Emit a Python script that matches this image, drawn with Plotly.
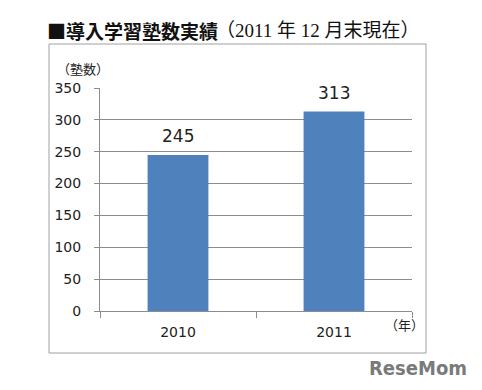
import plotly.graph_objects as go

categories = ["2010", "2011"]
values = [245, 313]
y_ticks = [0, 50, 100, 150, 200, 250, 300, 350]

W, H = 482, 390
L, R, T, B = 100, 70, 88, 79
PW, PH = W - L - R, H - T - B

fig = go.Figure()
fig.add_trace(go.Bar(
    x=categories, y=values, marker=dict(color="#4F81BD", line=dict(width=0)),
    width=0.39, hoverinfo="skip",
))


def px(x):
    return (x - L) / PW


def py(y):
    return 1 - (y - T) / PH


# category positions on the category axis are their indices
value_labels = [
    dict(text=str(v), x=i, y=v, xref="x", yref="y", yanchor="middle", yshift=19,
         showarrow=False, font=dict(size=17, color="#222222", family="DejaVu Sans"))
    for i, v in enumerate(values)
]

fig.update_layout(
    width=W, height=H, paper_bgcolor="white", plot_bgcolor="white",
    margin=dict(l=L, r=R, t=T, b=B), showlegend=False,
    xaxis=dict(type="category", range=[-0.5, 1.5], tickson="boundaries", ticks="outside",
               ticklen=6, tickcolor="#8c8c8c", showline=True, linecolor="#8c8c8c", linewidth=1,
               showgrid=False, ticklabelstandoff=8,
               tickfont=dict(size=14, color="#222222", family="DejaVu Sans")),
    yaxis=dict(range=[0, 350], tickvals=y_ticks, ticks="outside", ticklen=5, tickcolor="#8c8c8c",
               showline=True, linecolor="#8c8c8c", linewidth=1, showgrid=True, gridcolor="#8c8c8c",
               gridwidth=1, zeroline=False, ticklabelstandoff=10,
               tickfont=dict(size=14, color="#222222", family="DejaVu Sans")),
    shapes=[dict(type="rect", xref="paper", yref="paper", x0=px(49), x1=px(426), y0=py(353), y1=py(44),
                 line=dict(color="#a0a0a0", width=1), layer="below")],
    annotations=value_labels + [
        dict(text="<b>■導入学習塾数実績</b>", xref="paper", yref="paper", x=px(45), y=py(30),
             xanchor="left", yanchor="middle", showarrow=False,
             font=dict(size=19, color="#111111", family="Noto Sans CJK JP")),
        dict(text="（2011 年 12 月末現在）", xref="paper", yref="paper", x=px(214), y=py(31),
             xanchor="left", yanchor="middle", showarrow=False,
             font=dict(size=19, color="#111111", family="Liberation Serif, Noto Sans CJK JP")),
        dict(text="（塾数）", xref="paper", yref="paper", x=px(55), y=py(68),
             xanchor="left", yanchor="middle", showarrow=False,
             font=dict(size=13, color="#222222", family="Noto Sans CJK JP")),
        dict(text="（年）", xref="paper", yref="paper", x=px(383), y=py(324),
             xanchor="left", yanchor="middle", showarrow=False,
             font=dict(size=13, color="#222222", family="Noto Sans CJK JP")),
        dict(text="<b>ReseMom</b>", xref="paper", yref="paper", x=px(469), y=py(368),
             xanchor="right", yanchor="middle", showarrow=False,
             font=dict(size=20, color="#7a7a7a", family="DejaVu Sans Condensed, DejaVu Sans")),
    ],
)
fig.write_html("out.html", config={"displayModeBar": False},
               post_script="document.body.style.margin='0';")
